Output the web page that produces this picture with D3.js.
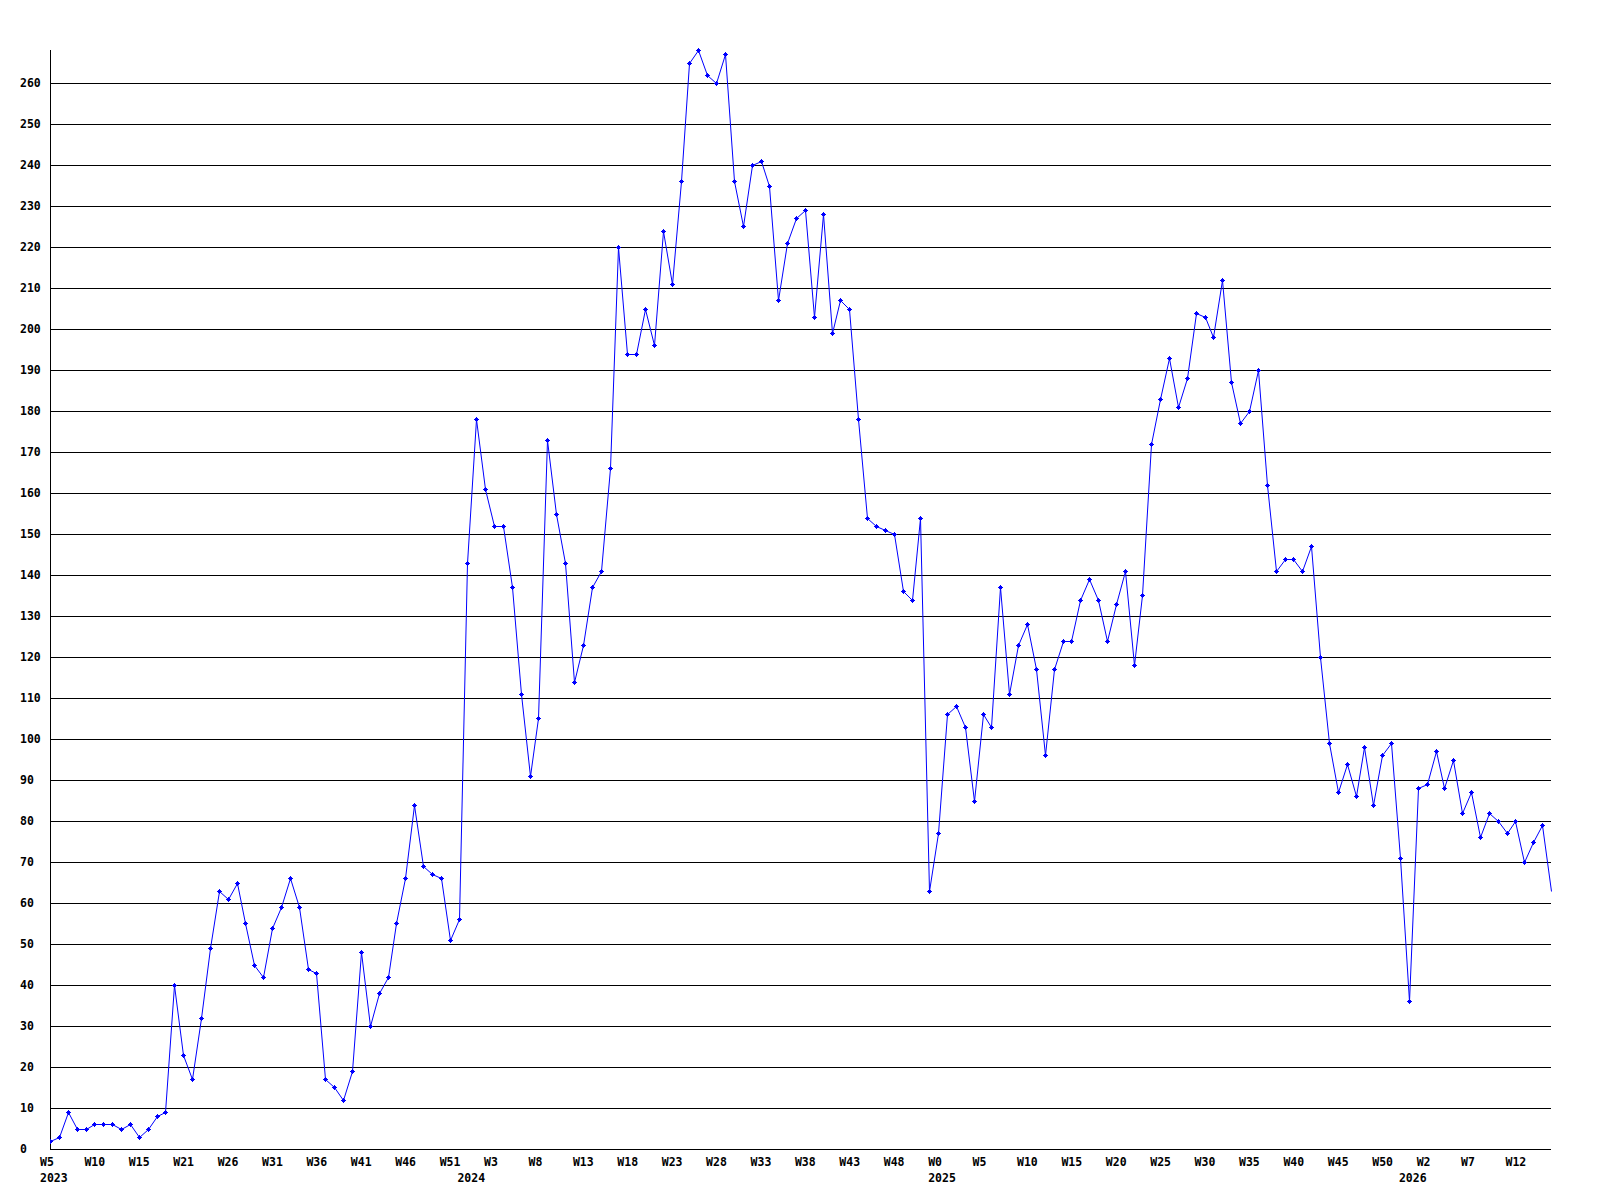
<!DOCTYPE html>
<html>
<head>
<meta charset="utf-8">
<title>Weekly count</title>
<script src="https://cdn.jsdelivr.net/npm/d3@7"></script>
<style>
  body { margin: 0; background: #fff; }
  text { font-family: "DejaVu Sans Mono", "Liberation Mono", monospace; font-weight: bold; font-size: 11.5px; fill: #000; }
</style>
</head>
<body>
<div id="chart"></div>
<script>
// weekly values, one per week starting at W5 2023
var counts = [
  2, 3, 9, 5, 5, 6, 6, 6, 5, 6, 3, 5, 8, 9, 40, 23, 17, 32, 49, 63, 61, 65,
  55, 45, 42, 54, 59, 66, 59, 44, 43, 17, 15, 12, 19, 48, 30, 38, 42, 55, 66, 84, 69,
  67, 66, 51, 56, 143, 178, 161, 152, 152, 137, 111, 91, 105, 173, 155, 143, 114, 123, 137, 141, 166,
  220, 194, 194, 205, 196, 224, 211, 236, 265, 268, 262, 260, 267, 236, 225, 240, 241, 235, 207, 221,
  227, 229, 203, 228, 199, 207, 205, 178, 154, 152, 151, 150, 136, 134, 154, 63, 77, 106, 108, 103, 85,
  106, 103, 137, 111, 123, 128, 117, 96, 117, 124, 124, 134, 139, 134, 124, 133, 141, 118, 135, 172,
  183, 193, 181, 188, 204, 203, 198, 212, 187, 177, 180, 190, 162, 141, 144, 144, 141, 147, 120, 99, 87, 94,
  86, 98, 84, 96, 99, 71, 36, 88, 89, 97, 88, 95, 82, 87, 76, 82, 80, 77, 80, 70, 75, 79, 63
];

// a week label every 5th point
var weekLabels = ["W5", "W10", "W15", "W21", "W26", "W31", "W36", "W41", "W46", "W51",
  "W3", "W8", "W13", "W18", "W23", "W28", "W33", "W38", "W43", "W48",
  "W0", "W5", "W10", "W15", "W20", "W25", "W30", "W35", "W40", "W45", "W50",
  "W2", "W7", "W12"];
var labelStep = 5;

// year label and the point index where that year starts
var yearLabels = ["2023", "2024", "2025", "2026"];
var yearStarts = [0, 47, 100, 153];

var yTicks = d3.range(0, 261, 10);

var width = 1600;
var height = 1200;
var plotLeft = 50, plotRight = 1551, plotTop = 50, plotBottom = 1149;

var x = d3.scaleLinear().domain([0, counts.length - 1]).range([plotLeft, plotRight]);
var y = d3.scaleLinear().domain([0, 260]).range([plotBottom, 83]);

var svg = d3.select("#chart").append("svg")
  .attr("width", width)
  .attr("height", height)
  .style("background", "#fff");

// horizontal grid
svg.append("g")
  .selectAll("line")
  .data(yTicks.slice(1))
  .enter().append("line")
  .attr("x1", plotLeft)
  .attr("x2", plotRight)
  .attr("y1", function(d) { return Math.round(y(d)) + 0.5; })
  .attr("y2", function(d) { return Math.round(y(d)) + 0.5; })
  .attr("stroke", "#000")
  .attr("shape-rendering", "crispEdges");

// axes lines
svg.append("line")
  .attr("x1", plotLeft + 0.5).attr("x2", plotLeft + 0.5)
  .attr("y1", plotTop).attr("y2", Math.round(y(0)) + 1)
  .attr("stroke", "#000").attr("shape-rendering", "crispEdges");
svg.append("line")
  .attr("x1", plotLeft).attr("x2", plotRight)
  .attr("y1", Math.round(y(0)) + 0.5).attr("y2", Math.round(y(0)) + 0.5)
  .attr("stroke", "#000").attr("shape-rendering", "crispEdges");

// y labels, left aligned
svg.append("g")
  .selectAll("text")
  .data(yTicks)
  .enter().append("text")
  .attr("x", 20)
  .attr("y", function(d) { return Math.round(y(d)) + 4; })
  .text(function(d) { return d; });

// week labels
svg.append("g")
  .selectAll("text")
  .data(weekLabels)
  .enter().append("text")
  .attr("x", function(d, i) { return x(i * labelStep) - 10; })
  .attr("y", 1166)
  .text(function(d) { return d; });

// year labels
svg.append("g")
  .selectAll("text")
  .data(yearLabels)
  .enter().append("text")
  .attr("x", function(d, i) { return x(yearStarts[i]) - 10; })
  .attr("y", 1182)
  .text(function(d) { return d; });

var line = d3.line()
  .x(function(d, i) { return Math.round(x(i)) + 0.5; })
  .y(function(d) { return Math.round(y(d)) + 0.5; });

svg.append("clipPath").attr("id", "plot")
  .append("rect")
  .attr("x", plotLeft).attr("y", 0)
  .attr("width", plotRight - plotLeft).attr("height", plotBottom + 1);

svg.append("path")
  .datum(counts)
  .attr("fill", "none")
  .attr("stroke", "#0000ff")
  .attr("stroke-width", 1)
  .attr("d", line);

// small plus-shaped markers (last, unfinished week has none)
function marker(d, i) {
  var cx = Math.round(x(i)), cy = Math.round(y(d));
  return "M" + (cx - 1) + "," + (cy - 1) + "h3v3h-3z" +
    "M" + (cx - 2) + "," + cy + "h5v1h-5z" +
    "M" + cx + "," + (cy - 2) + "h1v5h-1z";
}

svg.append("g")
  .attr("clip-path", "url(#plot)")
  .selectAll("path")
  .data(counts.slice(0, counts.length - 1))
  .enter().append("path")
  .attr("d", marker)
  .attr("fill", "#0000ff")
  .attr("shape-rendering", "crispEdges");
</script>
</body>
</html>
